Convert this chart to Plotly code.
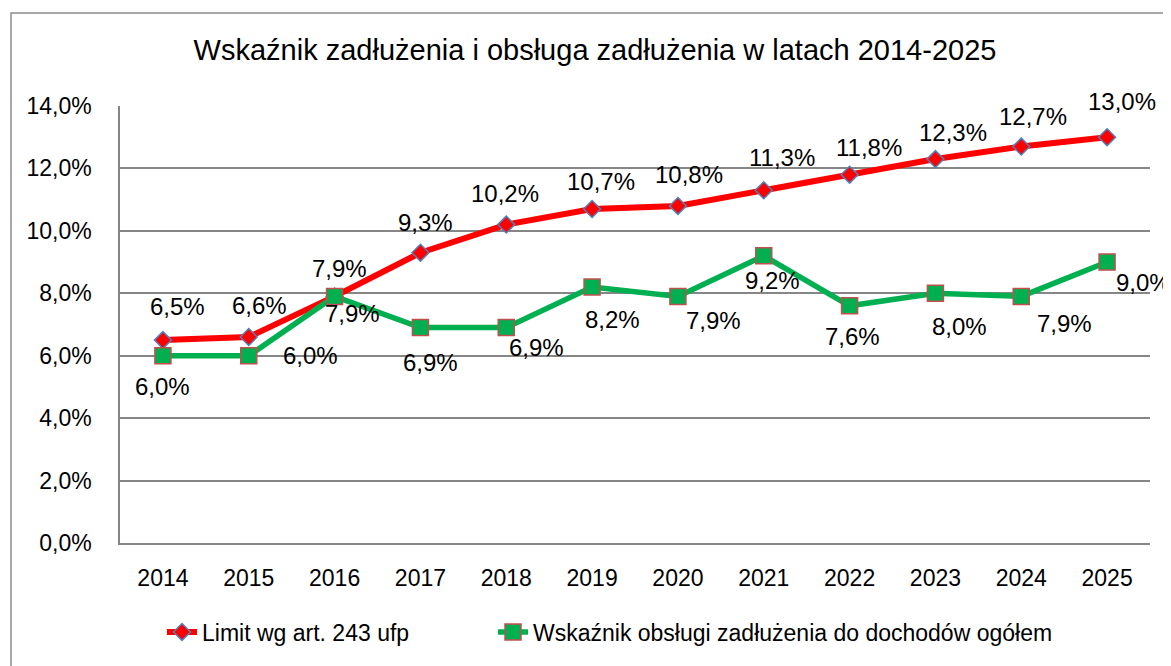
import plotly.graph_objects as go

years = ["2014", "2015", "2016", "2017", "2018", "2019", "2020", "2021", "2022", "2023", "2024", "2025"]
limit_values = [6.5, 6.6, 7.9, 9.3, 10.2, 10.7, 10.8, 11.3, 11.8, 12.3, 12.7, 13.0]
debt_service = [6.0, 6.0, 7.9, 6.9, 6.9, 8.2, 7.9, 9.2, 7.6, 8.0, 7.9, 9.0]
y_ticks = [0, 2, 4, 6, 8, 10, 12, 14]
y_tick_labels = ["0,0%", "2,0%", "4,0%", "6,0%", "8,0%", "10,0%", "12,0%", "14,0%"]

series_names = ["Limit wg art. 243 ufp", "Wskaźnik obsługi zadłużenia do dochodów ogółem"]
title_text = "Wskaźnik zadłużenia i obsługa zadłużenia w latach 2014-2025"

# label offsets in pixels (x, y) relative to each marker (layout only)
limit_label_shift = [(15, 34), (11, 31), (5, 28), (5, 30), (-1, 31), (9, 28), (11, 31), (18, 33), (19, 27), (18, 27), (12, 30), (15, 36)]
debt_label_shift = [(0, -31), (62, 0), (18, -17), (10, -35), (30, -20), (20, -32), (36, -24), (9, -25), (3, -31), (24, -33), (43, -27), (36, -20)]

FONT = "Liberation Sans, Arial, sans-serif"

def fmt(v):
    return f"{v:.1f}%".replace(".", ",")

fig = go.Figure()
fig.add_trace(go.Scatter(
    x=years, y=limit_values, mode="lines+markers", name=series_names[0], legend="legend",
    line=dict(color="#FF0000", width=6),
    marker=dict(symbol="diamond", size=13, color="#FF0000", line=dict(color="#4F81BD", width=1.5)),
))
fig.add_trace(go.Scatter(
    x=years, y=debt_service, mode="lines+markers", name=series_names[1], legend="legend2",
    line=dict(color="#00B050", width=5.5),
    marker=dict(symbol="square", size=16, color="#00B050", line=dict(color="#C0504D", width=1.5)),
))

for i in range(len(years)):
    dx, dy = limit_label_shift[i]
    fig.add_annotation(x=i, y=limit_values[i], text=fmt(limit_values[i]), showarrow=False,
                       xshift=dx, yshift=dy, font=dict(family=FONT, size=24, color="#000000"))
    dx, dy = debt_label_shift[i]
    fig.add_annotation(x=i, y=debt_service[i], text=fmt(debt_service[i]), showarrow=False,
                       xshift=dx, yshift=dy, font=dict(family=FONT, size=24, color="#000000"))

# outer chart border
fig.add_shape(type="rect", xref="paper", yref="paper",
              x0=(11 - 120) / 1030, x1=(1190 - 120) / 1030,
              y0=(543 - 690) / 437, y1=(543 - 13) / 437,
              line=dict(color="#8c8c8c", width=1.5), fillcolor="rgba(0,0,0,0)", layer="below")

legend_common = dict(orientation="h", xanchor="left", yanchor="middle",
                     y=(543 - 632) / 437,
                     font=dict(family=FONT, size=23, color="#000000"),
                     itemwidth=30, bgcolor="rgba(0,0,0,0)")

fig.update_layout(
    width=1171, height=666,
    margin=dict(l=112, r=29, t=98, b=131),
    paper_bgcolor="white", plot_bgcolor="white",
    title=dict(text=title_text, x=(595 - 120) / 1030, xref="paper", xanchor="center",
               y=1 - 42 / 666, yanchor="middle",
               font=dict(family=FONT, size=29, color="#000000")),
    showlegend=True,
    legend=dict(x=(162 - 120) / 1030, **legend_common),
    legend2=dict(x=(493 - 120) / 1030, **legend_common),
    xaxis=dict(type="category", range=[-0.5, len(years) - 0.5], showgrid=False,
               showline=True, linecolor="#868686", linewidth=1.5,
               tickfont=dict(family=FONT, size=23, color="#000000"), automargin=False,
               ticks="outside", ticklen=14, tickcolor="rgba(0,0,0,0)"),
    yaxis=dict(range=[0, 14], tickvals=y_ticks, ticktext=y_tick_labels,
               showgrid=True, gridcolor="#868686", gridwidth=1.5, automargin=False,
               showline=True, linecolor="#868686", linewidth=1.5, zeroline=False,
               tickfont=dict(family=FONT, size=23, color="#000000"),
               ticks="outside", ticklen=22, tickcolor="rgba(0,0,0,0)"),
)

fig.write_html("out.html")
